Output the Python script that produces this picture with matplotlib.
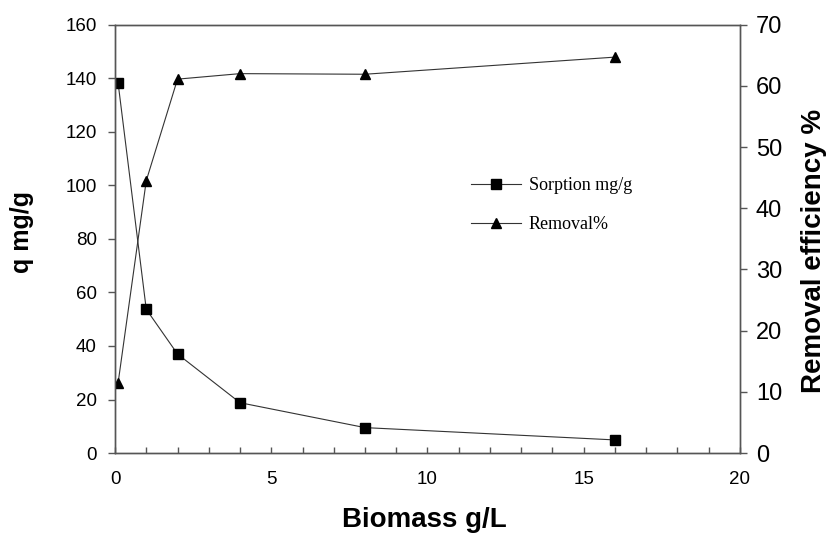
import matplotlib
matplotlib.use('Agg')
import matplotlib.pyplot as plt
from matplotlib.ticker import MultipleLocator

# data
biomass = [0.1, 1, 2, 4, 8, 16]
sorption = [138.1, 53.7, 37.0, 18.8, 9.5, 4.9]
removal = [11.5, 44.5, 61.1, 62.0, 61.9, 64.7]

plt.rcParams['font.family'] = ['Liberation Sans', 'DejaVu Sans']

fig = plt.figure(figsize=(8.28, 5.33), dpi=100)
ax = fig.add_axes([0.1389, 0.150, 0.7548, 0.8037])
ax2 = ax.twinx()

line_c = '#333333'
spine_c = '#555555'

l1, = ax.plot(biomass, sorption, color=line_c, lw=0.8, marker='s', ms=7,
              mfc='black', mec='black', label='Sorption mg/g')
l2, = ax2.plot(biomass, removal, color=line_c, lw=0.8, marker='^', ms=7,
               mfc='black', mec='black', label='Removal%')

ax.set_xlim(0, 20)
ax.set_ylim(0, 160)
ax2.set_ylim(0, 70)
ax.xaxis.set_major_locator(MultipleLocator(5))
ax.xaxis.set_minor_locator(MultipleLocator(1))
ax.yaxis.set_major_locator(MultipleLocator(20))
ax2.yaxis.set_major_locator(MultipleLocator(10))

for a in (ax, ax2):
    for s in a.spines.values():
        s.set_color(spine_c)
        s.set_linewidth(1.0)

ax.tick_params(axis='x', which='both', direction='in', length=4, width=1,
               color=spine_c, pad=13, labelsize=13.5, top=False)
ax.tick_params(axis='y', direction='out', length=5, width=1, color=spine_c,
               pad=8, labelsize=13.5, right=False)
ax2.tick_params(axis='y', direction='out', length=5, width=1, color=spine_c,
                pad=6.5, labelsize=17)

ax.set_xlabel('Biomass g/L', fontsize=20, fontweight='bold')
ax.xaxis.set_label_coords(0.495, -0.125)
ax.set_ylabel('q mg/g', fontsize=18, fontweight='bold')
ax.yaxis.set_label_coords(-0.13, 0.516)
ax2.set_ylabel('Removal efficiency %', fontsize=20, fontweight='bold')
ax2.yaxis.set_label_coords(1.098, 0.472)

ax2.legend(handles=[l1, l2], loc='upper left', bbox_to_anchor=(0.555, 0.665),
           frameon=False, borderpad=0, handlelength=2.8, handletextpad=0.4,
           labelspacing=1.2, prop={'family': 'Liberation Serif', 'size': 13})

fig.savefig('out.png', dpi=100)
